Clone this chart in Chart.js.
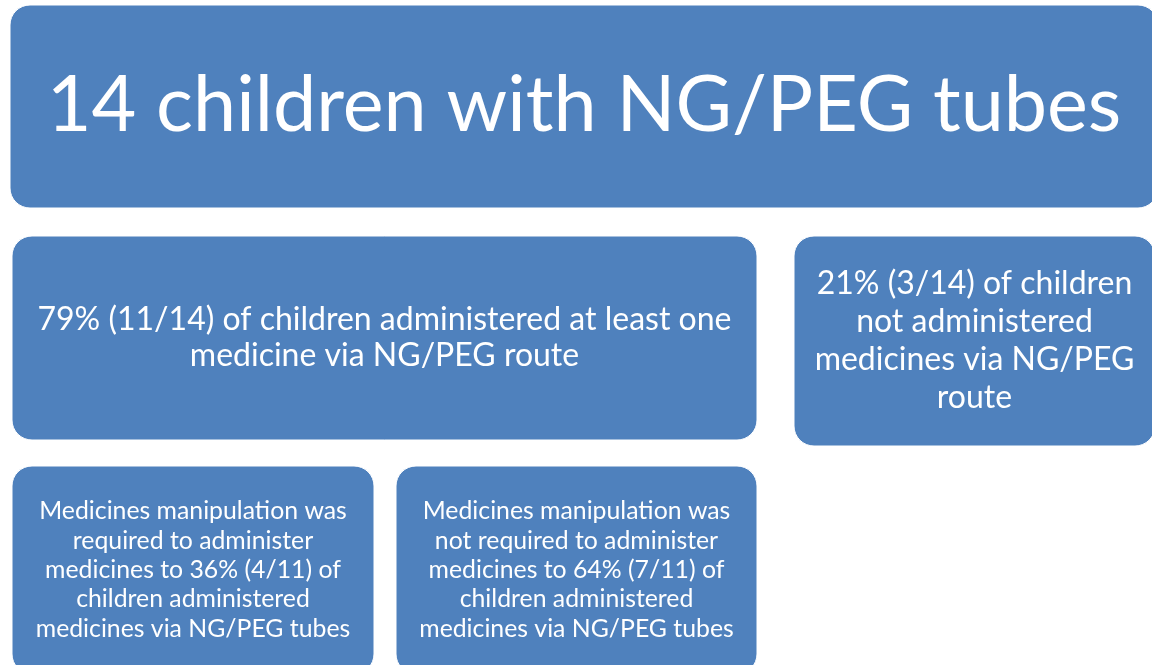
<!DOCTYPE html>
<html>
<head>
<meta charset="utf-8">
<script src="https://cdn.jsdelivr.net/npm/chart.js@4"></script>
<style>
html,body{margin:0;padding:0;background:#fff;}
#wrap{width:1152px;height:665px;position:relative;}
</style>
</head>
<body>
<div id="wrap"><canvas id="c"></canvas></div>
<script>
// Box extents in diagram units (x: 0..1152, y: 0..665 top-down)
const boxLeft   = [10, 12, 794, 12, 396];
const boxRight  = [1158, 757, 1155, 374, 757];
const boxTop    = [5, 236, 236, 466, 466];
const boxBottom = [208, 440, 446, 674, 674];
const boxLines = [
  ["14 children with NG/PEG tubes"],
  ["79% (11/14) of children administered at least one", "medicine via NG/PEG route"],
  ["21% (3/14) of children", "not administered", "medicines via NG/PEG", "route"],
  ["Medicines manipulation was", "required to administer", "medicines to 36% (4/11) of", "children administered", "medicines via NG/PEG tubes"],
  ["Medicines manipulation was", "not required to administer", "medicines to 64% (7/11) of", "children administered", "medicines via NG/PEG tubes"]
];

const fontSizes = [77.3, 32, 32, 24.8, 24.8];
const lineHeights = [80, 36, 38, 29.3, 29.3];
const FILL = '#4F81BD';
const FONT = 'Lato, "Liberation Sans", sans-serif';

const boxPlugin = {
  id: 'boxes',
  afterDatasetsDraw(chart) {
    const ctx = chart.ctx;
    const xs = chart.scales.x, ys = chart.scales.y;
    for (let i = 0; i < boxLeft.length; i++) {
      const x0 = xs.getPixelForValue(boxLeft[i]);
      const x1 = xs.getPixelForValue(boxRight[i]);
      const y0 = ys.getPixelForValue(boxTop[i]);
      const y1 = ys.getPixelForValue(boxBottom[i]);
      const r = 20;
      ctx.save();
      ctx.beginPath();
      ctx.roundRect(x0, y0, x1 - x0, y1 - y0, r);
      ctx.fillStyle = FILL;
      ctx.fill();
      ctx.lineWidth = 1;
      ctx.strokeStyle = '#ffffff';
      ctx.stroke();
      ctx.fillStyle = '#ffffff';
      ctx.font = fontSizes[i] + 'px ' + FONT;
      ctx.textAlign = 'center';
      ctx.textBaseline = 'middle';
      const cx = (x0 + x1) / 2;
      const cy = (y0 + y1) / 2;
      const lines = boxLines[i];
      const lh = lineHeights[i];
      lines.forEach((t, k) => {
        ctx.fillText(t, cx, cy + (k - (lines.length - 1) / 2) * lh);
      });
      ctx.restore();
    }
  }
};

new Chart(document.getElementById('c'), {
  type: 'scatter',
  data: {
    datasets: [{
      data: boxLeft.map((l, i) => ({ x: (l + boxRight[i]) / 2, y: (boxTop[i] + boxBottom[i]) / 2 })),
      pointRadius: 0
    }]
  },
  options: {
    responsive: true,
    maintainAspectRatio: false,
    animation: false,
    layout: { padding: 0 },
    plugins: { legend: { display: false }, tooltip: { enabled: false } },
    scales: {
      x: { type: 'linear', min: 0, max: 1152, display: false },
      y: { type: 'linear', min: 0, max: 665, reverse: true, display: false }
    }
  },
  plugins: [boxPlugin]
});
</script>
</body>
</html>
